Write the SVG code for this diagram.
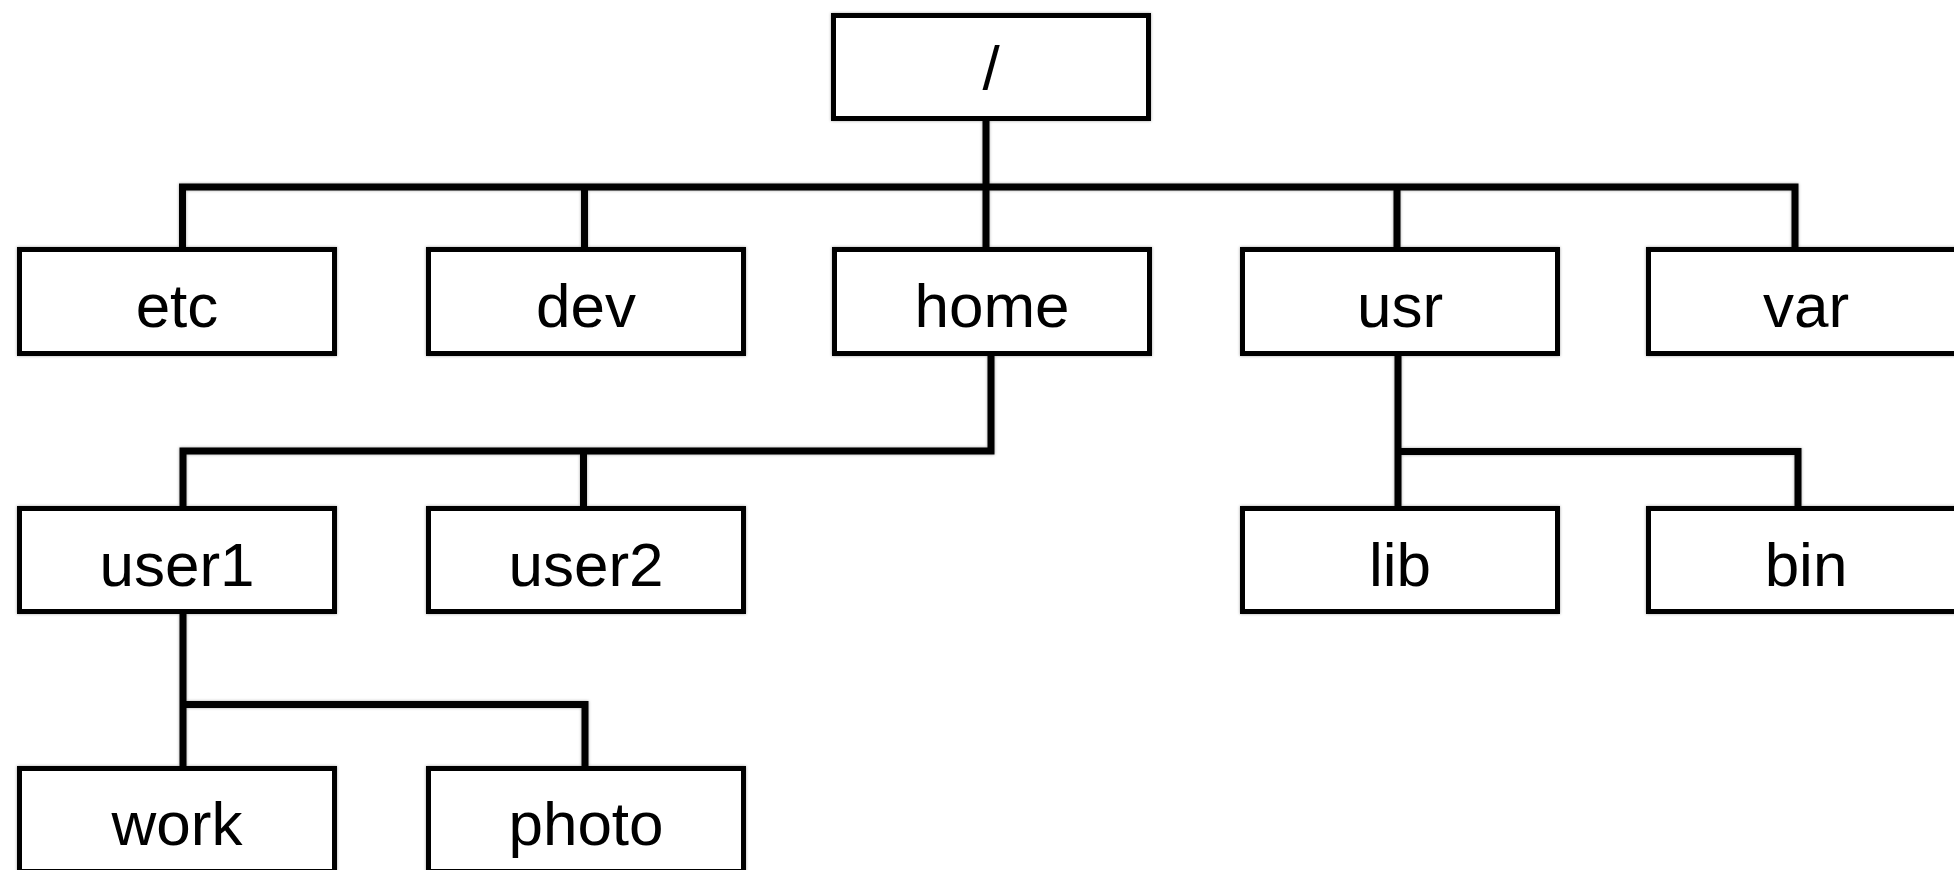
<svg xmlns="http://www.w3.org/2000/svg" width="1954" height="870" viewBox="0 0 1954 870">
<style>
.box{fill:#fff;stroke:#000;stroke-width:5}
.lbl{font-family:"Liberation Sans",Arial,Helvetica,sans-serif;font-size:62px;fill:#000;text-anchor:middle}
.con{fill:none;stroke:#000;stroke-width:7;stroke-linejoin:miter;stroke-linecap:butt}
</style>
<defs>
<filter id="sh" x="-5%" y="-5%" width="110%" height="110%">
<feDropShadow dx="0" dy="0" stdDeviation="1.5" flood-color="#000" flood-opacity="0.35"/>
</filter>
</defs>
<rect width="1954" height="870" fill="#fff"/>
<g filter="url(#sh)">
<g id="connectors">
<path class="con" d="M986 121 V249"/>
<path class="con" d="M182.5 249 V187 H1795 V249"/>
<path class="con" d="M584.5 187 V249"/>
<path class="con" d="M1397 187 V249"/>
<path class="con" d="M991 354 V451 H183 V508"/>
<path class="con" d="M583.5 451 V508"/>
<path class="con" d="M183 612 V768"/>
<path class="con" d="M183 704.5 H585 V768"/>
<path class="con" d="M1398 354 V508"/>
<path class="con" d="M1398 451.5 H1798 V508"/>
</g>
<g id="root"><rect class="box" x="833.5" y="15.5" width="315" height="103"/><text class="lbl" x="991" y="89">/</text></g>
<g id="etc"><rect class="box" x="19.5" y="249.5" width="315" height="104"/><text class="lbl" x="177" y="327">etc</text></g>
<g id="dev"><rect class="box" x="428.5" y="249.5" width="315" height="104"/><text class="lbl" x="586" y="327">dev</text></g>
<g id="home"><rect class="box" x="834.5" y="249.5" width="315" height="104"/><text class="lbl" x="992" y="327">home</text></g>
<g id="usr"><rect class="box" x="1242.5" y="249.5" width="315" height="104"/><text class="lbl" x="1400" y="327">usr</text></g>
<g id="var"><rect class="box" x="1648.5" y="249.5" width="315" height="104"/><text class="lbl" x="1806" y="327">var</text></g>
<g id="user1"><rect class="box" x="19.5" y="508.5" width="315" height="103"/><text class="lbl" x="177" y="586">user1</text></g>
<g id="user2"><rect class="box" x="428.5" y="508.5" width="315" height="103"/><text class="lbl" x="586" y="586">user2</text></g>
<g id="lib"><rect class="box" x="1242.5" y="508.5" width="315" height="103"/><text class="lbl" x="1400" y="586">lib</text></g>
<g id="bin"><rect class="box" x="1648.5" y="508.5" width="315" height="103"/><text class="lbl" x="1806" y="586">bin</text></g>
<g id="work"><rect class="box" x="19.5" y="768.5" width="315" height="103"/><text class="lbl" x="177" y="845">work</text></g>
<g id="photo"><rect class="box" x="428.5" y="768.5" width="315" height="103"/><text class="lbl" x="586" y="845">photo</text></g>
</g>
</svg>
